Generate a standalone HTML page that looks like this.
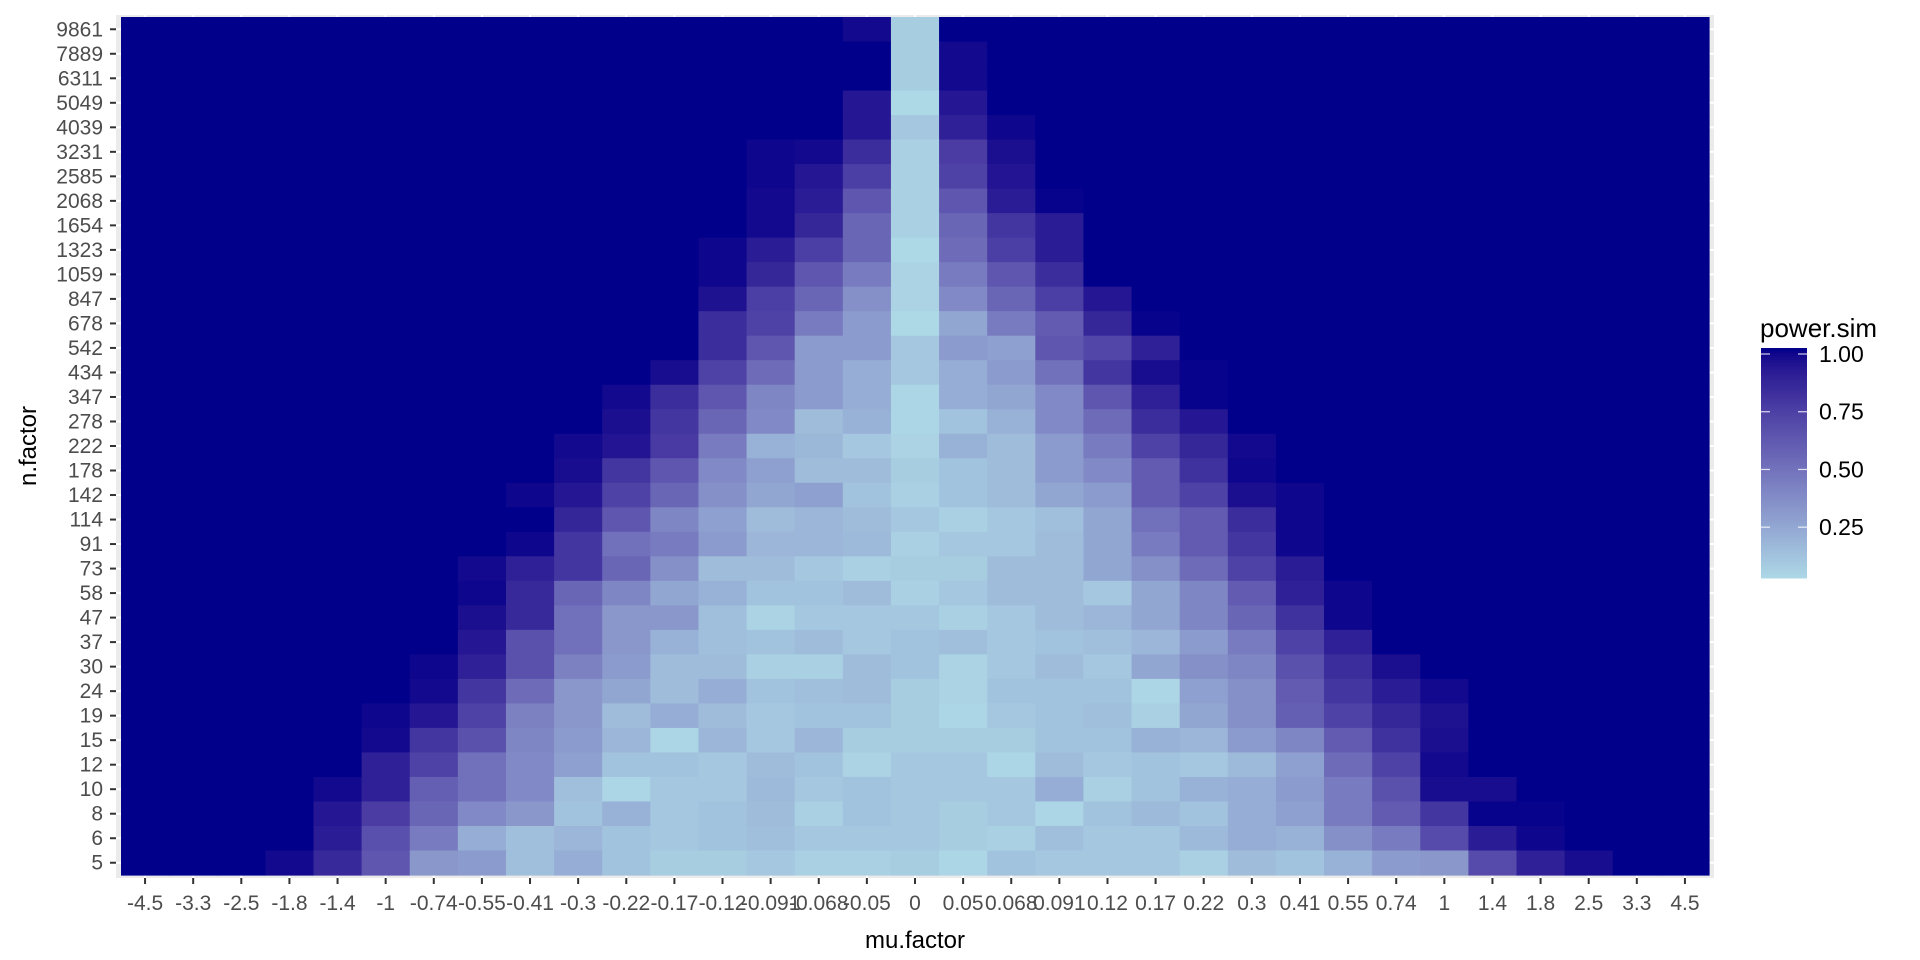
<!DOCTYPE html>
<html><head><meta charset="utf-8"><style>
html,body{margin:0;padding:0;background:#fff;}
svg{display:block;font-family:"Liberation Sans",Arial,sans-serif;}
</style></head><body>
<svg id="chart" width="1920" height="960" viewBox="0 0 1920 960" xmlns="http://www.w3.org/2000/svg">
<rect x="116" y="15" width="1598" height="863" fill="#EBEBEB"/>
<g id="grid"></g>
<g id="tiles"></g>
<g id="xaxis"></g>
<g id="yaxis"></g>
<text x="915" y="948" font-size="24" text-anchor="middle" fill="#000">mu.factor</text>
<text x="0" y="0" font-size="24" text-anchor="middle" fill="#000" transform="translate(36,446) rotate(-90)">n.factor</text>
<g id="legend">
<text x="1760" y="337" font-size="26" fill="#000">power.sim</text>
</g>
</svg>
<script>
const muLabels = ["-4.5","-3.3","-2.5","-1.8","-1.4","-1","-0.74","-0.55","-0.41","-0.3","-0.22","-0.17","-0.12","-0.091","-0.068","-0.05","0","0.05","0.068","0.091","0.12","0.17","0.22","0.3","0.41","0.55","0.74","1","1.4","1.8","2.5","3.3","4.5"];
const nLabels = ["9861","7889","6311","5049","4039","3231","2585","2068","1654","1323","1059","847","678","542","434","347","278","222","178","142","114","91","73","58","47","37","30","24","19","15","12","10","8","6","5"];
const legendTicks = [1.00, 0.75, 0.50, 0.25];
const legendTickLabels = ["1.00","0.75","0.50","0.25"];
// power.sim values: rows top (n=9861) to bottom (n=5), columns mu -4.5 .. 4.5
const powerSim = [
[1,1,1,1,1,1,1,1,1,1,1,1,1,1,1,0.97,0.08,1,1,1,1,1,1,1,1,1,1,1,1,1,1,1,1],
[1,1,1,1,1,1,1,1,1,1,1,1,1,1,1,1,0.08,0.97,1,1,1,1,1,1,1,1,1,1,1,1,1,1,1],
[1,1,1,1,1,1,1,1,1,1,1,1,1,1,1,1,0.08,0.97,1,1,1,1,1,1,1,1,1,1,1,1,1,1,1],
[1,1,1,1,1,1,1,1,1,1,1,1,1,1,1,0.92,0.03,0.92,1,1,1,1,1,1,1,1,1,1,1,1,1,1,1],
[1,1,1,1,1,1,1,1,1,1,1,1,1,1,1,0.92,0.1,0.88,0.98,1,1,1,1,1,1,1,1,1,1,1,1,1,1],
[1,1,1,1,1,1,1,1,1,1,1,1,1,0.98,0.97,0.82,0.06,0.75,0.95,1,1,1,1,1,1,1,1,1,1,1,1,1,1],
[1,1,1,1,1,1,1,1,1,1,1,1,1,0.98,0.92,0.74,0.06,0.72,0.93,1,1,1,1,1,1,1,1,1,1,1,1,1,1],
[1,1,1,1,1,1,1,1,1,1,1,1,1,0.97,0.9,0.62,0.06,0.62,0.9,0.99,1,1,1,1,1,1,1,1,1,1,1,1,1],
[1,1,1,1,1,1,1,1,1,1,1,1,1,0.97,0.85,0.55,0.06,0.55,0.78,0.9,1,1,1,1,1,1,1,1,1,1,1,1,1],
[1,1,1,1,1,1,1,1,1,1,1,1,0.98,0.9,0.74,0.55,0.03,0.52,0.74,0.9,1,1,1,1,1,1,1,1,1,1,1,1,1],
[1,1,1,1,1,1,1,1,1,1,1,1,0.98,0.85,0.62,0.45,0.05,0.45,0.62,0.82,1,1,1,1,1,1,1,1,1,1,1,1,1],
[1,1,1,1,1,1,1,1,1,1,1,1,0.94,0.74,0.55,0.35,0.05,0.38,0.55,0.74,0.92,1,1,1,1,1,1,1,1,1,1,1,1],
[1,1,1,1,1,1,1,1,1,1,1,1,0.82,0.72,0.45,0.3,0.03,0.25,0.45,0.6,0.85,0.99,1,1,1,1,1,1,1,1,1,1,1],
[1,1,1,1,1,1,1,1,1,1,1,1,0.82,0.62,0.3,0.3,0.1,0.3,0.28,0.62,0.7,0.88,1,1,1,1,1,1,1,1,1,1,1],
[1,1,1,1,1,1,1,1,1,1,1,0.96,0.72,0.52,0.3,0.22,0.1,0.22,0.3,0.5,0.78,0.96,0.99,1,1,1,1,1,1,1,1,1,1],
[1,1,1,1,1,1,1,1,1,1,0.97,0.82,0.62,0.4,0.3,0.22,0.04,0.22,0.25,0.38,0.62,0.88,0.99,1,1,1,1,1,1,1,1,1,1],
[1,1,1,1,1,1,1,1,1,1,0.95,0.78,0.55,0.38,0.15,0.2,0.04,0.12,0.2,0.38,0.52,0.82,0.92,1,1,1,1,1,1,1,1,1,1],
[1,1,1,1,1,1,1,1,1,0.97,0.93,0.76,0.45,0.2,0.17,0.1,0.05,0.2,0.15,0.3,0.45,0.72,0.85,0.97,1,1,1,1,1,1,1,1,1],
[1,1,1,1,1,1,1,1,1,0.96,0.78,0.62,0.38,0.28,0.15,0.15,0.08,0.12,0.15,0.3,0.38,0.6,0.8,0.98,1,1,1,1,1,1,1,1,1],
[1,1,1,1,1,1,1,1,0.98,0.92,0.72,0.55,0.35,0.25,0.28,0.12,0.06,0.12,0.15,0.25,0.3,0.6,0.72,0.95,0.98,1,1,1,1,1,1,1,1],
[1,1,1,1,1,1,1,1,1,0.86,0.62,0.4,0.28,0.15,0.18,0.15,0.1,0.06,0.1,0.14,0.25,0.5,0.6,0.82,0.98,1,1,1,1,1,1,1,1],
[1,1,1,1,1,1,1,1,0.98,0.78,0.5,0.45,0.3,0.18,0.18,0.16,0.06,0.1,0.1,0.15,0.25,0.45,0.6,0.78,0.98,1,1,1,1,1,1,1,1],
[1,1,1,1,1,1,1,0.97,0.88,0.78,0.55,0.35,0.15,0.15,0.1,0.06,0.08,0.08,0.15,0.15,0.25,0.35,0.52,0.72,0.9,1,1,1,1,1,1,1,1],
[1,1,1,1,1,1,1,0.98,0.84,0.55,0.4,0.25,0.2,0.12,0.12,0.15,0.06,0.1,0.15,0.15,0.1,0.25,0.4,0.6,0.88,0.98,1,1,1,1,1,1,1],
[1,1,1,1,1,1,1,0.95,0.84,0.5,0.32,0.32,0.14,0.05,0.1,0.1,0.1,0.06,0.1,0.15,0.18,0.25,0.4,0.55,0.8,0.98,1,1,1,1,1,1,1],
[1,1,1,1,1,1,1,0.92,0.65,0.5,0.32,0.2,0.14,0.12,0.15,0.1,0.12,0.14,0.1,0.12,0.14,0.18,0.3,0.45,0.72,0.88,1,1,1,1,1,1,1],
[1,1,1,1,1,1,0.98,0.88,0.65,0.42,0.3,0.15,0.15,0.06,0.06,0.15,0.12,0.05,0.1,0.15,0.1,0.25,0.35,0.4,0.65,0.82,0.95,1,1,1,1,1,1],
[1,1,1,1,1,1,0.97,0.78,0.52,0.32,0.25,0.15,0.22,0.12,0.14,0.15,0.08,0.05,0.12,0.12,0.12,0.04,0.28,0.35,0.6,0.78,0.9,0.97,1,1,1,1,1],
[1,1,1,1,1,0.98,0.92,0.72,0.42,0.32,0.15,0.22,0.15,0.1,0.12,0.12,0.08,0.04,0.1,0.12,0.14,0.06,0.25,0.35,0.58,0.72,0.85,0.94,1,1,1,1,1],
[1,1,1,1,1,0.97,0.78,0.65,0.4,0.3,0.18,0.04,0.18,0.1,0.18,0.08,0.08,0.08,0.08,0.12,0.12,0.2,0.18,0.3,0.4,0.6,0.8,0.95,1,1,1,1,1],
[1,1,1,1,1,0.88,0.72,0.5,0.38,0.28,0.12,0.12,0.1,0.15,0.12,0.05,0.1,0.1,0.04,0.15,0.1,0.12,0.1,0.16,0.28,0.52,0.72,0.97,1,1,1,1,1],
[1,1,1,1,0.97,0.88,0.58,0.5,0.38,0.14,0.04,0.1,0.1,0.16,0.1,0.12,0.1,0.1,0.1,0.22,0.06,0.12,0.2,0.22,0.3,0.45,0.65,0.96,0.96,1,1,1,1],
[1,1,1,1,0.92,0.75,0.55,0.38,0.32,0.12,0.2,0.1,0.12,0.15,0.06,0.12,0.1,0.08,0.1,0.04,0.12,0.16,0.12,0.22,0.28,0.45,0.6,0.78,0.99,0.99,1,1,1],
[1,1,1,1,0.9,0.66,0.45,0.22,0.14,0.18,0.12,0.1,0.12,0.14,0.1,0.1,0.1,0.08,0.06,0.14,0.1,0.1,0.16,0.22,0.2,0.35,0.45,0.68,0.9,0.98,1,1,1],
[1,1,1,0.97,0.84,0.62,0.32,0.3,0.14,0.22,0.12,0.08,0.08,0.1,0.06,0.06,0.08,0.04,0.12,0.1,0.1,0.1,0.06,0.15,0.12,0.2,0.3,0.32,0.68,0.88,0.96,1,1]
];

const NS = "http://www.w3.org/2000/svg";
const X0 = 121, X1 = 1709, Y0 = 17, Y1 = 875;
const colW = (X1 - X0) / muLabels.length;
const rowH = (Y1 - Y0) / nLabels.length;
function xScale(i){ return X0 + colW * i; }
function yScale(j){ return Y0 + rowH * j; }
let vmin = 1, vmax = 0;
powerSim.forEach(r => r.forEach(v => { if (v < vmin) vmin = v; if (v > vmax) vmax = v; }));

function srgb2lin(c){ c/=255; return c<=0.04045?c/12.92:Math.pow((c+0.055)/1.055,2.4); }
function lin2srgb(c){ c = c<=0.0031308?12.92*c:1.055*Math.pow(c,1/2.4)-0.055; return Math.max(0,Math.min(255,Math.round(c*255))); }
function rgb2lab(r,g,b){
  r=srgb2lin(r); g=srgb2lin(g); b=srgb2lin(b);
  let x=(r*0.4124+g*0.3576+b*0.1805)/0.95047, y=(r*0.2126+g*0.7152+b*0.0722), z=(r*0.0193+g*0.1192+b*0.9505)/1.08883;
  const f=t=>t>0.008856?Math.cbrt(t):7.787*t+16/116;
  x=f(x); y=f(y); z=f(z);
  return [116*y-16, 500*(x-y), 200*(y-z)];
}
function lab2rgb(L,a,bb){
  let y=(L+16)/116, x=a/500+y, z=y-bb/200;
  const fi=t=>t*t*t>0.008856?t*t*t:(t-16/116)/7.787;
  x=fi(x)*0.95047; y=fi(y); z=fi(z)*1.08883;
  const r=x*3.2406+y*-1.5372+z*-0.4986, g=x*-0.9689+y*1.8758+z*0.0415, b=x*0.0557+y*-0.2040+z*1.0570;
  return `rgb(${lin2srgb(r)},${lin2srgb(g)},${lin2srgb(b)})`;
}
const labLow = rgb2lab(0xAD,0xD8,0xE6), labHigh = rgb2lab(0x00,0x00,0x8B);
function color(v){
  const t = Math.max(0, Math.min(1, (v - vmin) / (vmax - vmin)));
  return lab2rgb(labLow[0]+(labHigh[0]-labLow[0])*t, labLow[1]+(labHigh[1]-labLow[1])*t, labLow[2]+(labHigh[2]-labLow[2])*t);
}

const grid = document.getElementById('grid');
muLabels.forEach((m,i)=>{
  const l=document.createElementNS(NS,'line');
  
  
  const x=xScale(i+0.5);
  l.setAttribute('x1',x); l.setAttribute('x2',x); l.setAttribute('y1',15); l.setAttribute('y2',878);
  l.setAttribute('stroke','#fff'); l.setAttribute('stroke-width','2');
  grid.appendChild(l);
});
nLabels.forEach((n,j)=>{
  const l=document.createElementNS(NS,'line');
  
  
  const y=yScale(j+0.5);
  l.setAttribute('x1',116); l.setAttribute('x2',1714); l.setAttribute('y1',y); l.setAttribute('y2',y);
  l.setAttribute('stroke','#fff'); l.setAttribute('stroke-width','2');
  grid.appendChild(l);
});

const tiles = document.getElementById('tiles');
powerSim.forEach((row,j)=>{
  row.forEach((v,i)=>{
    const r=document.createElementNS(NS,'rect');
    
    
    r.setAttribute('x',xScale(i)); r.setAttribute('y',yScale(j));
    r.setAttribute('width',colW+0.6); r.setAttribute('height',rowH+0.6);
    r.setAttribute('fill',color(v));
    tiles.appendChild(r);
  });
});

const xa = document.getElementById('xaxis');
muLabels.forEach((m,i)=>{
  const x=xScale(i+0.5);
  const t=document.createElementNS(NS,'line');
  
  
  t.setAttribute('x1',x); t.setAttribute('x2',x); t.setAttribute('y1',878); t.setAttribute('y2',884);
  t.setAttribute('stroke','#333'); t.setAttribute('stroke-width','2');
  xa.appendChild(t);
  const tx=document.createElementNS(NS,'text');
  
  
  tx.setAttribute('x',x); tx.setAttribute('y',910);
  tx.setAttribute('font-size','21'); tx.setAttribute('text-anchor','middle'); tx.setAttribute('fill','#4D4D4D');
  tx.textContent=m;
  xa.appendChild(tx);
});
const ya = document.getElementById('yaxis');
nLabels.forEach((n,j)=>{
  const y=yScale(j+0.5);
  const t=document.createElementNS(NS,'line');
  
  
  t.setAttribute('x1',110); t.setAttribute('x2',116); t.setAttribute('y1',y); t.setAttribute('y2',y);
  t.setAttribute('stroke','#333'); t.setAttribute('stroke-width','2');
  ya.appendChild(t);
  const tx=document.createElementNS(NS,'text');
  
  
  tx.setAttribute('x',103); tx.setAttribute('y',y+7);
  tx.setAttribute('font-size','21'); tx.setAttribute('text-anchor','end'); tx.setAttribute('fill','#4D4D4D');
  tx.textContent=n;
  ya.appendChild(tx);
});

const lg = document.getElementById('legend');
const LB0 = 348, LB1 = 578, LX = 1761, LW = 46;
function legY(v){ return LB1 - (v - vmin) / (vmax - vmin) * (LB1 - LB0 - 6); }
const steps = 100;
for (let k=0;k<steps;k++){
  const v0 = vmin + (vmax - vmin) * k/steps;
  const r=document.createElementNS(NS,'rect');
  
  
  const yTop = LB1 - (LB1-LB0)*(k+1)/steps;
  r.setAttribute('x',LX); r.setAttribute('y',yTop); r.setAttribute('width',LW); r.setAttribute('height',(LB1-LB0)/steps+0.5);
  r.setAttribute('fill',color(v0 + (vmax-vmin)/(2*steps)));
  lg.appendChild(r);
}
legendTicks.forEach((v,k)=>{
  const y=legY(v);
  ['L','R'].forEach(side=>{
    const l=document.createElementNS(NS,'line');
    
    
    const xs = side==='L'?LX:LX+LW-9;
    l.setAttribute('x1',xs); l.setAttribute('x2',xs+9); l.setAttribute('y1',y); l.setAttribute('y2',y);
    l.setAttribute('stroke','#fff'); l.setAttribute('stroke-width','1.2'); l.setAttribute('opacity','0.8');
    lg.appendChild(l);
  });
  const tx=document.createElementNS(NS,'text');
  
  
  tx.setAttribute('x',1819); tx.setAttribute('y',y+8);
  tx.setAttribute('font-size','23'); tx.setAttribute('fill','#000');
  tx.textContent=legendTickLabels[k];
  lg.appendChild(tx);
});
</script>
</body></html>
